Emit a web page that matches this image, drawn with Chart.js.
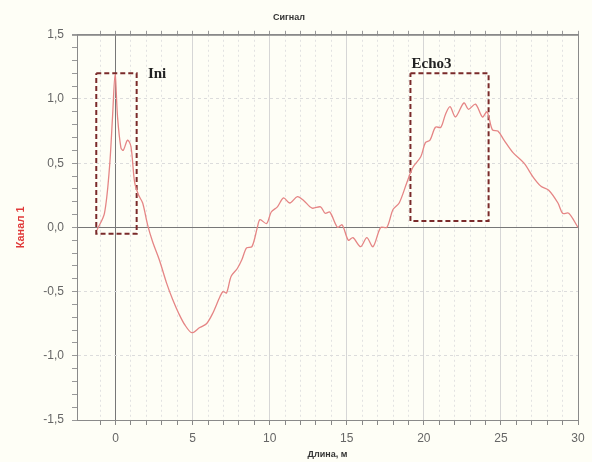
<!DOCTYPE html>
<html>
<head>
<meta charset="utf-8">
<script src="https://cdn.jsdelivr.net/npm/chart.js@4"></script>
<style>
  body { margin: 0; background: #fefef6; }
  #wrap { width: 592px; height: 462px; }
</style>
</head>
<body>
<div id="wrap"><canvas id="signalChart" width="592" height="462"></canvas></div>
<script>
// длина, м
const distance = [-1.2, -0.72, -0.39, -0.2, -0.03, 0.13, 0.35, 0.5, 0.78, 1.0, 1.24, 1.5, 1.76, 2.08, 2.4, 2.86,
  3.3, 3.7, 4.1, 4.5, 4.95, 5.46, 5.9, 6.3, 6.77, 6.97, 7.2, 7.5, 7.9, 8.2, 8.5, 8.85, 9.2, 9.37, 9.8,
  10.1, 10.5, 10.9, 11.3, 11.8, 12.2, 12.75, 13.3, 13.6, 13.9, 14.4, 14.7, 15.1, 15.4, 15.9, 16.3, 16.7,
  17.2, 17.6, 18.0, 18.4, 18.9, 19.3, 19.8, 20.1, 20.4, 20.75, 21.1, 21.4, 21.7, 22.05, 22.6, 22.9,
  23.35, 23.8, 24.1, 24.45, 24.8, 25.2, 25.8, 26.5, 27.1, 27.6, 28.1, 28.7, 29.0, 29.4, 30.0];
// канал 1
const channel1 = [-0.02, 0.11, 0.47, 0.85, 1.19, 0.86, 0.62, 0.6, 0.68, 0.63, 0.35, 0.25, 0.19, 0.02, -0.11, -0.26,
  -0.43, -0.56, -0.67, -0.76, -0.82, -0.78, -0.75, -0.67, -0.54, -0.5, -0.51, -0.38, -0.32, -0.25, -0.16, -0.15, 0.0, 0.06, 0.03,
  0.12, 0.16, 0.23, 0.19, 0.24, 0.21, 0.15, 0.16, 0.11, 0.12, 0.0, 0.02, -0.1, -0.08, -0.15, -0.08, -0.15,
  0.0, 0.0, 0.14, 0.19, 0.35, 0.47, 0.55, 0.66, 0.68, 0.78, 0.78, 0.88, 0.94, 0.86, 0.97, 0.92,
  0.96, 0.86, 0.9, 0.76, 0.75, 0.68, 0.58, 0.5, 0.39, 0.32, 0.29, 0.19, 0.11, 0.11, 0.0];

// рамки Ini и Echo3
const iniBoxX = [-1.25, 1.37, 1.37, -1.25, -1.25];
const iniBoxY = [1.2, 1.2, -0.05, -0.05, 1.2];
const echoBoxX = [19.13, 24.2, 24.2, 19.13, 19.13];
const echoBoxY = [1.2, 1.2, 0.05, 0.05, 1.2];
const boxLabels = [
  { text: "Ini", x: 2.1, y: 1.19 },
  { text: "Echo3", x: 19.2, y: 1.27 }
];

function toPoints(xs, ys) {
  return xs.map((x, i) => ({ x: x, y: ys[i] }));
}

const isMult = (v, m) => Math.abs(v / m - Math.round(v / m)) < 1e-6;

const bgPlugin = {
  id: "bg",
  beforeDraw(chart) {
    const ctx = chart.ctx;
    ctx.save();
    ctx.fillStyle = "#fefef6";
    ctx.fillRect(0, 0, chart.width, chart.height);
    ctx.restore();
  },
  afterDraw(chart) {
    const ctx = chart.ctx;
    const a = chart.chartArea;
    ctx.save();
    ctx.strokeStyle = "#8a8a8a";
    ctx.lineWidth = 1;
    ctx.strokeRect(a.left + 0.5, a.top + 0.5, a.right - a.left, a.bottom - a.top);
    ctx.beginPath();
    ctx.moveTo(a.left - 5, a.top + 0.5);
    ctx.lineTo(a.left, a.top + 0.5);
    ctx.stroke();
    ctx.fillStyle = "#222";
    ctx.font = "bold 15px 'Liberation Serif', serif";
    ctx.textBaseline = "middle";
    boxLabels.forEach(l => {
      ctx.fillText(l.text, chart.scales.x.getPixelForValue(l.x), chart.scales.y.getPixelForValue(l.y));
    });
    ctx.restore();
  }
};

const boxStyle = {
  showLine: true,
  borderColor: "#7a2a2a",
  borderWidth: 2,
  borderDash: [5, 3],
  pointRadius: 0,
  fill: false,
  tension: 0
};

new Chart(document.getElementById("signalChart"), {
  type: "scatter",
  data: {
    datasets: [
      {
        data: toPoints(distance, channel1),
        showLine: true,
        borderColor: "#e58585",
        borderWidth: 1.3,
        pointRadius: 0,
        tension: 0.3
      },
      Object.assign({ data: toPoints(iniBoxX, iniBoxY) }, boxStyle),
      Object.assign({ data: toPoints(echoBoxX, echoBoxY) }, boxStyle)
    ]
  },
  options: {
    responsive: false,
    animation: false,
    layout: { padding: { left: 0, right: 14, top: 0, bottom: 0 } },
    plugins: {
      legend: { display: false },
      tooltip: { enabled: false },
      title: {
        display: true,
        text: "Сигнал",
        color: "#333",
        font: { family: "'Liberation Sans', Arial", size: 9, weight: "bold" },
        padding: { top: 12, bottom: 8 }
      }
    },
    scales: {
      x: {
        type: "linear",
        min: -2.5,
        max: 30,
        afterBuildTicks: s => { s.ticks = s.ticks.filter(t => isMult(t.value, 1)); },
        afterFit: s => { s.height = 42; },
        ticks: {
          stepSize: 1,
          autoSkip: false,
          maxRotation: 0,
          padding: 6,
          color: "#666",
          font: { family: "'Liberation Sans', Arial", size: 12 },
          callback: v => isMult(v, 5) ? String(v) : ""
        },
        grid: {
          color: c => c.tick.value === 0 ? "#777" : (isMult(c.tick.value, 5) ? "#d6d6d6" : "#e2e2e2"),
          tickColor: "#888",
          tickLength: 5
        },
        border: {
          color: "#8a8a8a",
          dash: c => (c.tick && (c.tick.value === 0 || isMult(c.tick.value, 5))) ? [] : [2, 3]
        },
        title: {
          display: true,
          text: "Длина, м",
          color: "#333",
          font: { family: "'Liberation Sans', Arial", size: 9, weight: "bold" },
          padding: { top: 0, bottom: 2 }
        }
      },
      x2: {
        type: "linear",
        position: "top",
        min: -2.5,
        max: 30,
        afterBuildTicks: s => { s.ticks = s.ticks.filter(t => isMult(t.value, 1)); },
        afterFit: s => { s.height = 4; },
        ticks: { stepSize: 1, display: false },
        grid: { drawOnChartArea: false, tickColor: "#999", tickLength: 4 },
        border: { color: "#8a8a8a" }
      },
      y: {
        min: -1.5,
        max: 1.5,
        afterFit: s => { s.width = 77; },
        ticks: {
          stepSize: 0.1,
          autoSkip: false,
          padding: 8,
          color: "#666",
          font: { family: "'Liberation Sans', Arial", size: 12 },
          callback: v => isMult(v, 0.5) ? v.toFixed(1).replace(".", ",") : ""
        },
        grid: {
          color: c => Math.abs(c.tick.value) < 1e-6 ? "#777" : (isMult(c.tick.value, 0.5) ? "#dcdcdc" : "rgba(0,0,0,0)"),
          tickColor: "#999",
          tickLength: 5
        },
        border: {
          color: "#8a8a8a",
          dash: c => (c.tick && isMult(c.tick.value, 0.5) && Math.abs(c.tick.value) > 1e-6) ? [3, 3] : []
        },
        title: {
          display: true,
          text: "Канал 1",
          color: "#e03a3a",
          font: { family: "'Liberation Sans', Arial", size: 11, weight: "bold" },
          padding: { top: 14, bottom: 0 }
        }
      }
    }
  },
  plugins: [bgPlugin]
});
</script>
</body>
</html>
